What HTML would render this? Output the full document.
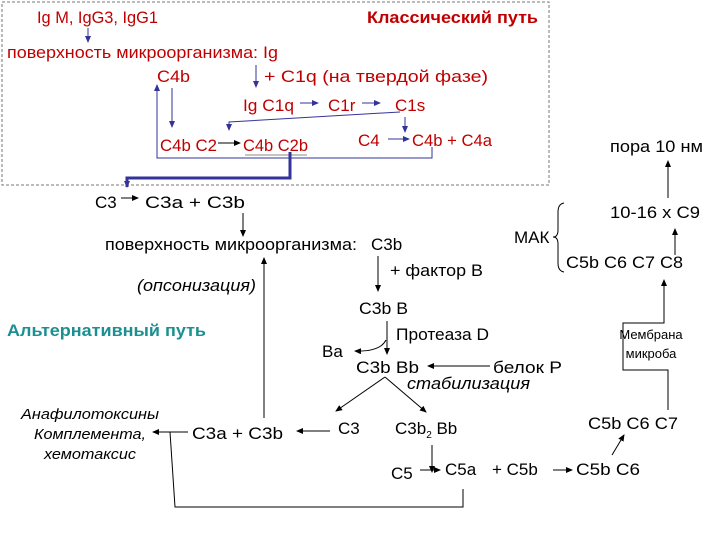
<!DOCTYPE html>
<html><head><meta charset="utf-8"><style>
body{margin:0;background:#fff}
svg{display:block}
text{font-family:"Liberation Sans",sans-serif;font-size:17px}
.r{fill:#c00000}
.i{font-style:italic}
</style></head><body>
<svg width="720" height="540" viewBox="0 0 720 540">
<defs>
<marker id="a" markerWidth="8" markerHeight="8" refX="6" refY="3" orient="auto" markerUnits="userSpaceOnUse"><path d="M0,0L7,3L0,6z" fill="#000"/></marker>
<marker id="b" markerWidth="8" markerHeight="8" refX="6" refY="3" orient="auto" markerUnits="userSpaceOnUse"><path d="M0,0L7,3L0,6z" fill="#333399"/></marker>
</defs>
<rect x="2" y="2" width="547" height="183" fill="none" stroke="#777" stroke-dasharray="3,2"/>
<g class="r">
<text x="37" y="23" class="r" textLength="121" lengthAdjust="spacingAndGlyphs">Ig M, IgG3, IgG1</text>
<text x="367" y="23" class="r" font-weight="bold" textLength="171" lengthAdjust="spacingAndGlyphs">Классический путь</text>
<text x="7" y="58" class="r" textLength="271" lengthAdjust="spacingAndGlyphs">поверхность микроорганизма: Ig</text>
<text x="157" y="82" class="r" textLength="33" lengthAdjust="spacingAndGlyphs">C4b</text>
<text x="264" y="82" class="r" textLength="224" lengthAdjust="spacingAndGlyphs">+ C1q (на твердой фазе)</text>
<text x="243" y="111" class="r" textLength="51" lengthAdjust="spacingAndGlyphs">Ig C1q</text>
<text x="328" y="111" class="r">C1r</text>
<text x="395" y="111" class="r">C1s</text>
<text x="160" y="151" class="r" textLength="57" lengthAdjust="spacingAndGlyphs">C4b C2</text>
<text x="243" y="151" class="r" textLength="65" lengthAdjust="spacingAndGlyphs">C4b C2b</text>
<text x="358" y="146" class="r">C4</text>
<text x="412" y="146" class="r" textLength="80" lengthAdjust="spacingAndGlyphs">C4b + C4a</text>
</g>
<line x1="245" y1="155" x2="307" y2="155" stroke="#888"/>
<g stroke="#333399" fill="none">
<line x1="88" y1="28" x2="88" y2="42" marker-end="url(#b)"/>
<line x1="256" y1="65" x2="256" y2="87" marker-end="url(#b)"/>
<line x1="300" y1="103" x2="318" y2="103" marker-end="url(#b)"/>
<line x1="362" y1="103" x2="380" y2="103" marker-end="url(#b)"/>
<polyline points="400,112 229,122 229,130" marker-end="url(#b)"/>
<line x1="405" y1="117" x2="405" y2="132" marker-end="url(#b)"/>
<line x1="172" y1="88" x2="172" y2="127" marker-end="url(#b)"/>
<polyline points="432,147 432,158 157,158 157,85" marker-end="url(#b)"/>
<line x1="388" y1="139" x2="409" y2="139" marker-end="url(#b)"/>
<polyline points="290,152 290,178 127,178 127,187" stroke-width="3" marker-end="url(#b)"/>
</g>
<line x1="218" y1="143" x2="240" y2="143" stroke="#000" marker-end="url(#a)"/>
<text x="95" y="208">C3</text>
<text x="145" y="208" textLength="100" lengthAdjust="spacingAndGlyphs">C3a + C3b</text>
<text x="105" y="250" textLength="252" lengthAdjust="spacingAndGlyphs">поверхность микроорганизма:</text>
<text x="371" y="250">C3b</text>
<text x="390" y="276" textLength="93" lengthAdjust="spacingAndGlyphs">+ фактор В</text>
<text x="137" y="291" class="i" textLength="119" lengthAdjust="spacingAndGlyphs">(опсонизация)</text>
<text x="359" y="314" textLength="49" lengthAdjust="spacingAndGlyphs">C3b B</text>
<text x="7" y="336" font-weight="bold" fill="#1a9090" textLength="199" lengthAdjust="spacingAndGlyphs">Альтернативный путь</text>
<text x="396" y="340" textLength="93" lengthAdjust="spacingAndGlyphs">Протеаза D</text>
<text x="322" y="357">Ba</text>
<text x="356" y="373" textLength="63" lengthAdjust="spacingAndGlyphs">C3b Bb</text>
<text x="493" y="373" textLength="69" lengthAdjust="spacingAndGlyphs">белок Р</text>
<text x="407" y="389" class="i" textLength="123" lengthAdjust="spacingAndGlyphs">стабилизация</text>
<text x="338" y="434">C3</text>
<text x="395" y="434">C3b<tspan font-size="10" dy="4">2</tspan><tspan dy="-4"> Bb</tspan></text>
<text x="192" y="439" textLength="91" lengthAdjust="spacingAndGlyphs">C3a + C3b</text>
<text x="90" y="419" class="i" text-anchor="middle" style="font-size:15px" textLength="138" lengthAdjust="spacingAndGlyphs">Анафилотоксины</text>
<text x="90" y="439" class="i" text-anchor="middle" style="font-size:15px" textLength="112" lengthAdjust="spacingAndGlyphs">Комплемента,</text>
<text x="90" y="459" class="i" text-anchor="middle" style="font-size:15px" textLength="92" lengthAdjust="spacingAndGlyphs">хемотаксис</text>
<text x="391" y="479">C5</text>
<text x="445" y="475">C5a</text>
<text x="492" y="475">+ C5b</text>
<text x="576" y="475" textLength="64" lengthAdjust="spacingAndGlyphs">C5b C6</text>
<text x="588" y="429" textLength="90" lengthAdjust="spacingAndGlyphs">C5b C6 C7</text>
<text x="651" y="339" text-anchor="middle" style="font-size:13px">Мембрана</text>
<text x="651" y="358" text-anchor="middle" style="font-size:13px">микроба</text>
<text x="566" y="268" textLength="117" lengthAdjust="spacingAndGlyphs">C5b C6 C7 C8</text>
<text x="610" y="218" textLength="90" lengthAdjust="spacingAndGlyphs">10-16 x C9</text>
<text x="610" y="152" textLength="93" lengthAdjust="spacingAndGlyphs">пора 10 нм</text>
<text x="514" y="243">МАК</text>
<path d="M564,203 Q558,204 558,212 L558,230 Q558,237 553,237 Q558,237 558,244 L558,263 Q558,271 564,272" fill="none" stroke="#000"/>
<g stroke="#000" fill="none">
<line x1="121" y1="198" x2="138" y2="198" marker-end="url(#a)"/>
<line x1="243" y1="213" x2="243" y2="236" marker-end="url(#a)"/>
<line x1="264" y1="418" x2="264" y2="258" marker-end="url(#a)"/>
<line x1="378" y1="256" x2="378" y2="291" marker-end="url(#a)"/>
<line x1="387" y1="321" x2="387" y2="354" marker-end="url(#a)"/>
<path d="M386,340 Q380,352 355,351" marker-end="url(#a)"/>
<line x1="490" y1="366" x2="428" y2="366" marker-end="url(#a)"/>
<line x1="385" y1="377" x2="336" y2="411" marker-end="url(#a)"/>
<line x1="385" y1="377" x2="426" y2="412" marker-end="url(#a)"/>
<line x1="330" y1="431" x2="297" y2="431" marker-end="url(#a)"/>
<line x1="188" y1="432" x2="153" y2="432" marker-end="url(#a)"/>
<polyline points="170,432 175,507 463,507 463,489"/>
<line x1="432" y1="445" x2="432" y2="472" marker-end="url(#a)"/>
<line x1="420" y1="470" x2="440" y2="470" marker-end="url(#a)"/>
<line x1="553" y1="470" x2="572" y2="470" marker-end="url(#a)"/>
<line x1="612" y1="455" x2="624" y2="435" marker-end="url(#a)"/>
<polyline points="668,410 668,370 623,370 623,323 664,323 664,280" marker-end="url(#a)"/>
<line x1="675" y1="255" x2="675" y2="229" marker-end="url(#a)"/>
<line x1="668" y1="198" x2="668" y2="161" marker-end="url(#a)"/>
</g>
</svg>
</body></html>
